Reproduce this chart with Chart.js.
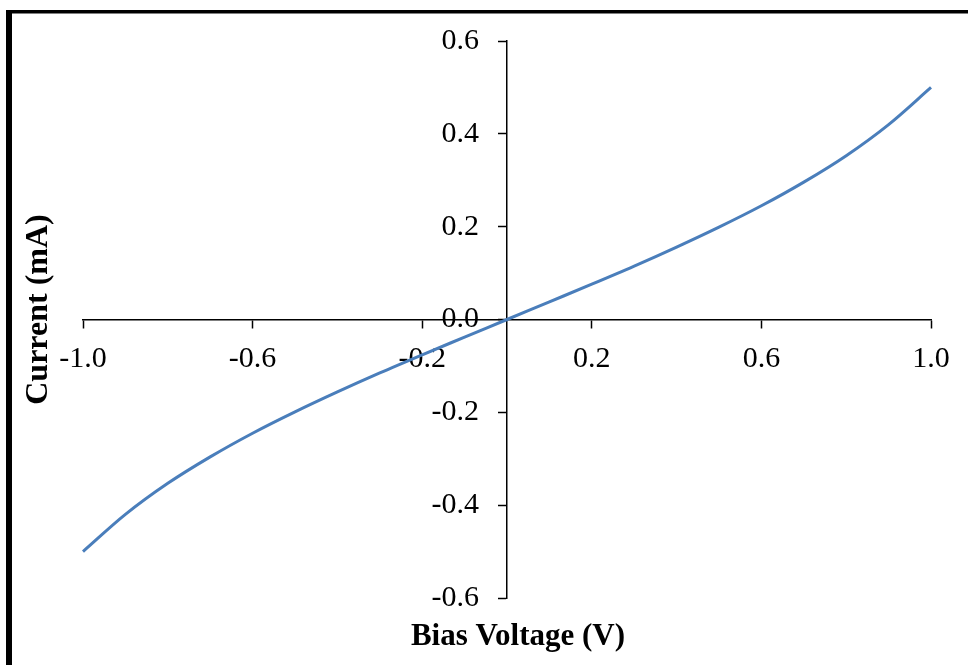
<!DOCTYPE html>
<html>
<head>
<meta charset="utf-8">
<script src="https://cdn.jsdelivr.net/npm/chart.js@4/dist/chart.umd.min.js"></script>
<style>
  html, body { margin: 0; padding: 0; background: #fff; }
  #wrap { width: 968px; height: 665px; position: relative; }
</style>
</head>
<body>
<div id="wrap"><canvas id="c" width="968" height="665"></canvas></div>
<script>
// Data
const biasVoltage = [-1.0, -0.9, -0.8, -0.7, -0.6, -0.5, -0.4, -0.3, -0.2, -0.1, 0.0,
                     0.1, 0.2, 0.3, 0.4, 0.5, 0.6, 0.7, 0.8, 0.9, 1.0];
const currentMA   = [-0.500, -0.420, -0.353, -0.296, -0.245, -0.199, -0.156, -0.115, -0.076, -0.038, 0.000,
                     0.038, 0.076, 0.115, 0.156, 0.199, 0.245, 0.296, 0.353, 0.420, 0.500];
const xTickValues = [-1.0, -0.6, -0.2, 0.2, 0.6, 1.0];
const yTickValues = [-0.6, -0.4, -0.2, 0.0, 0.2, 0.4, 0.6];
const xTitle = 'Bias Voltage (V)';
const yTitle = 'Current (mA)';

const FONT = "'Liberation Serif', 'Times New Roman', serif";
const Y_LABEL_GAP = 28;

const framePlugin = {
  id: 'frame',
  beforeDraw(chart) {
    const ctx = chart.ctx;
    ctx.save();
    ctx.fillStyle = '#fff';
    ctx.fillRect(0, 0, chart.width, chart.height);
    ctx.fillStyle = '#000';
    ctx.fillRect(6, 10, 6, chart.height - 10);
    ctx.fillRect(6, 10, chart.width - 6, 3.5);
    ctx.restore();
    // push the y tick labels to the left of the tick marks
    const ys = chart.scales.y;
    const items = ys.getLabelItems(chart.chartArea);
    if (!ys._shifted) {
      items.forEach(it => { it.options.translation[0] -= Y_LABEL_GAP; });
      ys._shifted = true;
    }
  },
  afterDraw(chart) {
    const ctx = chart.ctx;
    const area = chart.chartArea;
    ctx.save();
    ctx.fillStyle = '#000';
    ctx.textAlign = 'center';
    ctx.textBaseline = 'alphabetic';
    ctx.font = "bold 31px " + FONT;
    ctx.fillText(xTitle, (area.left + area.right) / 2 + 11, 645);
    ctx.font = "bold 32px " + FONT;
    ctx.translate(46.5, (area.top + area.bottom) / 2 - 10);
    ctx.rotate(-Math.PI / 2);
    ctx.fillText(yTitle, 0, 0);
    ctx.restore();
  }
};

new Chart(document.getElementById('c'), {
  type: 'line',
  data: {
    datasets: [{
      data: biasVoltage.map((v, i) => ({ x: v, y: currentMA[i] })),
      borderColor: '#4A7EBB',
      borderWidth: 3,
      pointRadius: 0,
      cubicInterpolationMode: 'monotone',
      fill: false,
      clip: 6
    }]
  },
  options: {
    responsive: false,
    animation: false,
    devicePixelRatio: 1,
    layout: { padding: { left: 83, right: 37, top: 41, bottom: 67 } },
    plugins: { legend: { display: false }, tooltip: { enabled: false }, title: { display: false } },
    scales: {
      x: {
        type: 'linear',
        min: -1, max: 1,
        position: { y: 0 },
        afterBuildTicks: s => { s.ticks = xTickValues.map(v => ({ value: v })); },
        ticks: {
          callback: v => Number(v).toFixed(1),
          color: '#000',
          font: { family: FONT, size: 30 },
          padding: 14,
          maxRotation: 0,
          autoSkip: false
        },
        grid: { drawOnChartArea: false, drawTicks: true, tickLength: 8, tickColor: '#000', tickWidth: 1.5 },
        border: { display: true, color: '#000', width: 1.5 }
      },
      y: {
        type: 'linear',
        min: -0.6, max: 0.6,
        position: { x: 0 },
        afterBuildTicks: s => { s.ticks = yTickValues.map(v => ({ value: v })); },
        ticks: {
          callback: v => Number(v).toFixed(1),
          color: '#000',
          font: { family: FONT, size: 30 },
          padding: 19,
          autoSkip: false
        },
        grid: { drawOnChartArea: false, drawTicks: true, tickLength: 8, tickColor: '#000', tickWidth: 1.5 },
        border: { display: true, color: '#000', width: 1.5 }
      }
    }
  },
  plugins: [framePlugin]
});
</script>
</body>
</html>
